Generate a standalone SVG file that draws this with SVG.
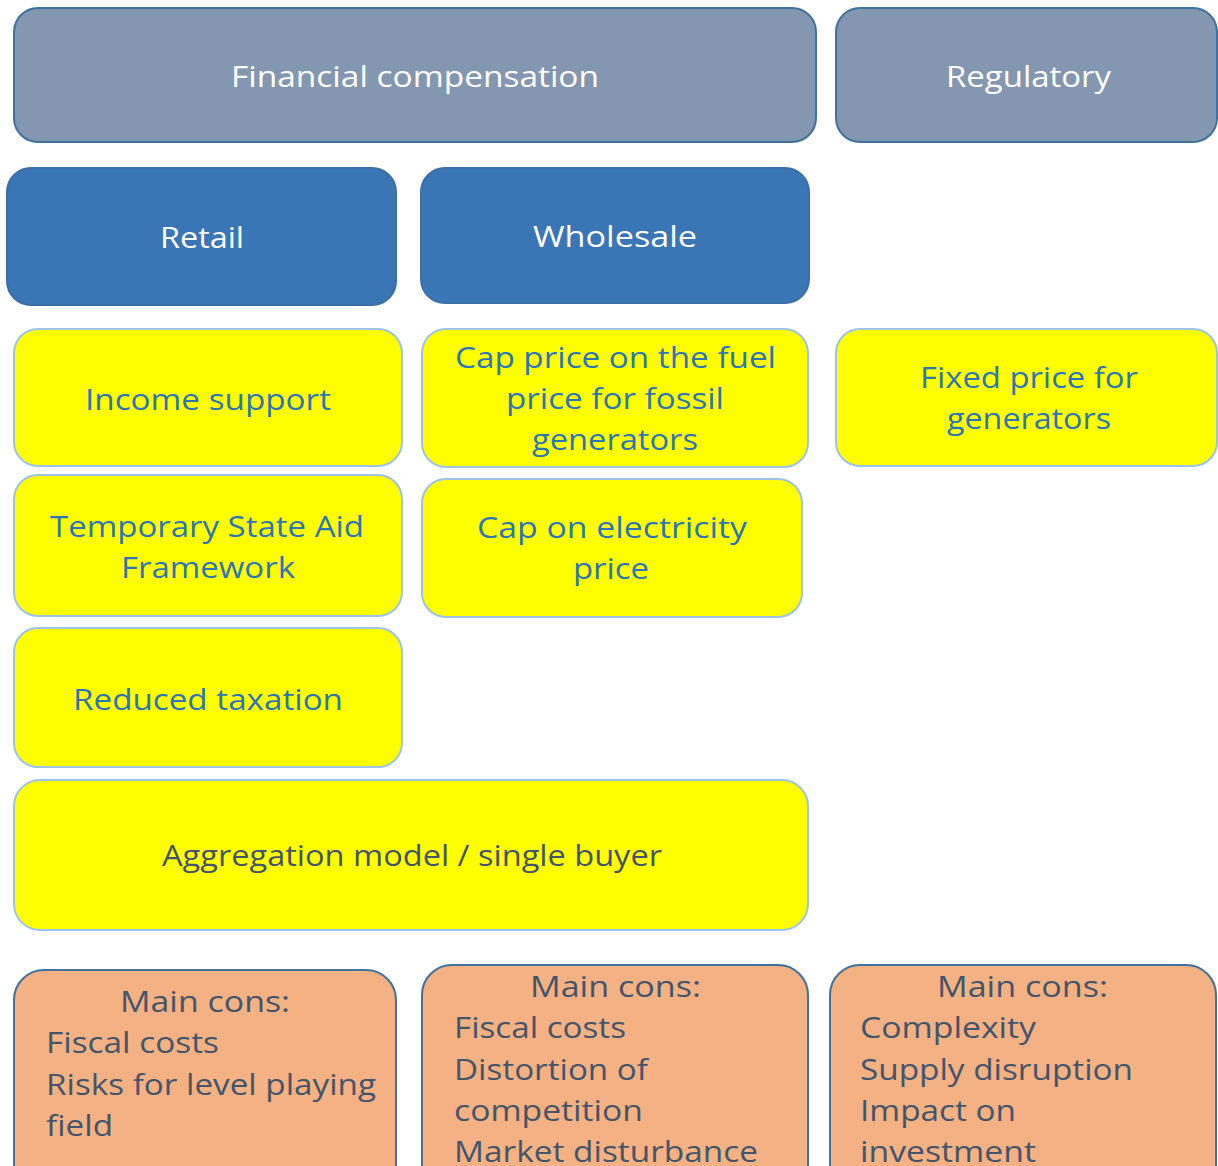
<svg xmlns="http://www.w3.org/2000/svg" width="1218" height="1166" viewBox="0 0 1218 1166">
<style>
text{font-family:"Open Sans","Noto Sans","Liberation Sans",sans-serif;font-size:30px}
.gray{fill:#8497B0;stroke:#41719C;stroke-width:2}
.blue{fill:#3A75B5;stroke:#3B6FA6;stroke-width:2}
.yel{fill:#FFFF00;stroke:#9DC3E6;stroke-width:2}
.org{fill:#F4B183;stroke:#41719C;stroke-width:2}
.w{fill:#FFFFFF}
.b{fill:#2E75B6}
.d{fill:#44546A}
.c{text-anchor:middle}
</style>
<rect width="1218" height="1166" fill="#FFFFFF"/>
<g id="connectors"></g>
<g id="financial"><rect class="gray" x="14" y="8" width="802" height="134" rx="24"/><text class="w" x="231" y="87" textLength="368" lengthAdjust="spacingAndGlyphs">Financial compensation</text></g>
<g id="regulatory"><rect class="gray" x="836" y="8" width="381" height="134" rx="24"/><text class="w" x="946" y="87" textLength="165" lengthAdjust="spacingAndGlyphs">Regulatory</text></g>
<g id="retail"><rect class="blue" x="7" y="168" width="389" height="137" rx="24"/><text class="w" x="160" y="248" textLength="84" lengthAdjust="spacingAndGlyphs">Retail</text></g>
<g id="wholesale"><rect class="blue" x="421" y="168" width="388" height="135" rx="24"/><text class="w" x="533" y="247" textLength="164" lengthAdjust="spacingAndGlyphs">Wholesale</text></g>
<g id="income"><rect class="yel" x="14" y="329" width="388" height="137" rx="24"/><text class="b" x="85" y="410" textLength="246" lengthAdjust="spacingAndGlyphs">Income support</text></g>
<g id="tsaf"><rect class="yel" x="14" y="475" width="388" height="141" rx="24"/><text class="b" x="50" y="537" textLength="314" lengthAdjust="spacingAndGlyphs">Temporary State Aid</text><text class="b" x="121" y="578" textLength="174" lengthAdjust="spacingAndGlyphs">Framework</text></g>
<g id="taxation"><rect class="yel" x="14" y="628" width="388" height="139" rx="24"/><text class="b" x="73" y="710" textLength="270" lengthAdjust="spacingAndGlyphs">Reduced taxation</text></g>
<g id="capfuel"><rect class="yel" x="422" y="329" width="386" height="138" rx="24"/><text class="b" x="455" y="368" textLength="321" lengthAdjust="spacingAndGlyphs">Cap price on the fuel</text><text class="b" x="506" y="409" textLength="218" lengthAdjust="spacingAndGlyphs">price for fossil</text><text class="b" x="532" y="450" textLength="166" lengthAdjust="spacingAndGlyphs">generators</text></g>
<g id="capelec"><rect class="yel" x="422" y="479" width="380" height="138" rx="24"/><text class="b" x="477" y="538" textLength="270" lengthAdjust="spacingAndGlyphs">Cap on electricity</text><text class="b" x="573" y="579" textLength="76" lengthAdjust="spacingAndGlyphs">price</text></g>
<g id="fixed"><rect class="yel" x="836" y="329" width="381" height="137" rx="24"/><text class="b" x="920" y="388" textLength="218" lengthAdjust="spacingAndGlyphs">Fixed price for</text><text class="b" x="947" y="429" textLength="164" lengthAdjust="spacingAndGlyphs">generators</text></g>
<g id="aggregation"><rect class="yel" x="14" y="780" width="794" height="150" rx="26"/><text class="d" x="162" y="866" textLength="500" lengthAdjust="spacingAndGlyphs">Aggregation model / single buyer</text></g>
<g id="cons1"><rect class="org" x="14" y="970" width="382" height="230" rx="30"/><text class="d" x="120" y="1012" textLength="170" lengthAdjust="spacingAndGlyphs">Main cons:</text><text class="d" x="46" y="1053" textLength="173" lengthAdjust="spacingAndGlyphs">Fiscal costs</text><text class="d" x="46" y="1095" textLength="330" lengthAdjust="spacingAndGlyphs">Risks for level playing</text><text class="d" x="46" y="1136" textLength="67" lengthAdjust="spacingAndGlyphs">field</text></g>
<g id="cons2"><rect class="org" x="422" y="965" width="386" height="235" rx="30"/><text class="d" x="530" y="997" textLength="171" lengthAdjust="spacingAndGlyphs">Main cons:</text><text class="d" x="454" y="1038" textLength="172" lengthAdjust="spacingAndGlyphs">Fiscal costs</text><text class="d" x="454" y="1080" textLength="194" lengthAdjust="spacingAndGlyphs">Distortion of</text><text class="d" x="454" y="1121" textLength="189" lengthAdjust="spacingAndGlyphs">competition</text><text class="d" x="454" y="1162" textLength="304" lengthAdjust="spacingAndGlyphs">Market disturbance</text></g>
<g id="cons3"><rect class="org" x="830" y="965" width="386" height="235" rx="30"/><text class="d" x="937" y="997" textLength="171" lengthAdjust="spacingAndGlyphs">Main cons:</text><text class="d" x="860" y="1038" textLength="176" lengthAdjust="spacingAndGlyphs">Complexity</text><text class="d" x="860" y="1080" textLength="273" lengthAdjust="spacingAndGlyphs">Supply disruption</text><text class="d" x="860" y="1121" textLength="156" lengthAdjust="spacingAndGlyphs">Impact on</text><text class="d" x="860" y="1162" textLength="176" lengthAdjust="spacingAndGlyphs">investment</text></g>
</svg>
